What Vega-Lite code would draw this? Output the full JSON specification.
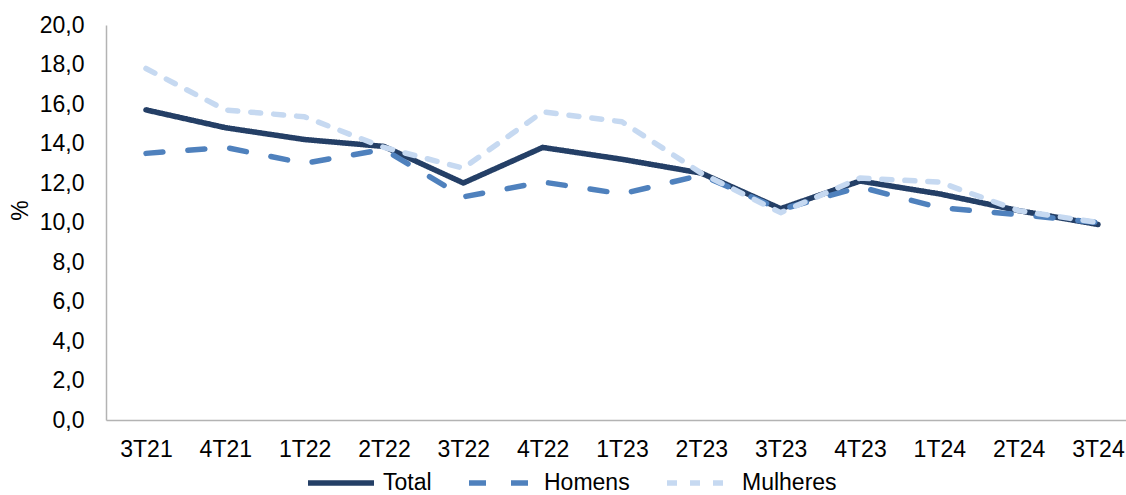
{
  "$schema": "https://vega.github.io/schema/vega-lite/v6.json",
  "width": 1020,
  "height": 395,
  "autosize": {"type": "none"},
  "padding": {"left": 106, "top": 25, "right": 0, "bottom": 75},
  "background": "white",
  "config": {
    "font": "Liberation Sans",
    "view": {"stroke": null},
    "axis": {"grid": false, "ticks": false, "domainColor": "#b3b3b3", "domainWidth": 1.5, "labelColor": "#000000", "labelFont": "Liberation Sans", "labelFontSize": 23, "titleFont": "Liberation Sans", "titleFontWeight": "normal", "titleColor": "#000000"}
  },
  "data": {
    "values": [
      {"q": "3T21", "serie": "Total", "v": 15.7},
      {"q": "4T21", "serie": "Total", "v": 14.8},
      {"q": "1T22", "serie": "Total", "v": 14.2},
      {"q": "2T22", "serie": "Total", "v": 13.85},
      {"q": "3T22", "serie": "Total", "v": 12.0},
      {"q": "4T22", "serie": "Total", "v": 13.8},
      {"q": "1T23", "serie": "Total", "v": 13.2},
      {"q": "2T23", "serie": "Total", "v": 12.5},
      {"q": "3T23", "serie": "Total", "v": 10.7},
      {"q": "4T23", "serie": "Total", "v": 12.1},
      {"q": "1T24", "serie": "Total", "v": 11.45},
      {"q": "2T24", "serie": "Total", "v": 10.6},
      {"q": "3T24", "serie": "Total", "v": 9.9},
      {"q": "3T21", "serie": "Homens", "v": 13.5},
      {"q": "4T21", "serie": "Homens", "v": 13.8},
      {"q": "1T22", "serie": "Homens", "v": 13.0},
      {"q": "2T22", "serie": "Homens", "v": 13.7},
      {"q": "3T22", "serie": "Homens", "v": 11.3},
      {"q": "4T22", "serie": "Homens", "v": 12.05},
      {"q": "1T23", "serie": "Homens", "v": 11.45},
      {"q": "2T23", "serie": "Homens", "v": 12.4},
      {"q": "3T23", "serie": "Homens", "v": 10.65},
      {"q": "4T23", "serie": "Homens", "v": 11.8},
      {"q": "1T24", "serie": "Homens", "v": 10.75},
      {"q": "2T24", "serie": "Homens", "v": 10.4},
      {"q": "3T24", "serie": "Homens", "v": 10.0},
      {"q": "3T21", "serie": "Mulheres", "v": 17.8},
      {"q": "4T21", "serie": "Mulheres", "v": 15.7},
      {"q": "1T22", "serie": "Mulheres", "v": 15.35},
      {"q": "2T22", "serie": "Mulheres", "v": 13.8},
      {"q": "3T22", "serie": "Mulheres", "v": 12.75},
      {"q": "4T22", "serie": "Mulheres", "v": 15.6},
      {"q": "1T23", "serie": "Mulheres", "v": 15.1},
      {"q": "2T23", "serie": "Mulheres", "v": 12.5},
      {"q": "3T23", "serie": "Mulheres", "v": 10.5},
      {"q": "4T23", "serie": "Mulheres", "v": 12.25},
      {"q": "1T24", "serie": "Mulheres", "v": 12.05},
      {"q": "2T24", "serie": "Mulheres", "v": 10.6},
      {"q": "3T24", "serie": "Mulheres", "v": 10.0}
    ]
  },
  "mark": {"type": "line", "strokeWidth": 5.5, "strokeCap": "round", "strokeJoin": "round"},
  "encoding": {
    "x": {
      "field": "q", "type": "ordinal", "sort": null,
      "scale": {"type": "point", "padding": 0.4286, "align": 0.588},
      "axis": {"title": null, "labelAngle": 0, "labelPadding": 18, "domainColor": "#b3b3b3"}
    },
    "y": {
      "field": "v", "type": "quantitative",
      "scale": {"domain": [0, 20], "nice": false, "zero": true},
      "axis": {
        "values": [0, 2, 4, 6, 8, 10, 12, 14, 16, 18, 20],
        "labelExpr": "replace(format(datum.value, '.1f'), '.', ',')",
        "labelPadding": 22,
        "title": "%", "titleFontSize": 23, "titleAngle": 270, "titleX": -86, "titleY": 185, "titleAlign": "center", "titleBaseline": "middle"
      }
    },
    "color": {
      "field": "serie", "type": "nominal",
      "scale": {"domain": ["Total", "Homens", "Mulheres"], "range": ["#243F66", "#4F81BD", "#C6D9F1"]},
      "legend": {
        "title": null, "orient": "none", "direction": "horizontal", "legendX": 199, "legendY": 422,
        "symbolType": "stroke", "symbolSize": 4356, "symbolStrokeWidth": 5.5,
        "labelFontSize": 23, "labelColor": "#000000", "labelFont": "Liberation Sans", "labelOffset": 6, "columnPadding": 26
      }
    },
    "strokeDash": {
      "field": "serie", "type": "nominal",
      "scale": {"domain": ["Total", "Homens", "Mulheres"], "range": [[1, 0], [17, 25], [10, 13]]},
      "legend": null
    }
  }
}
